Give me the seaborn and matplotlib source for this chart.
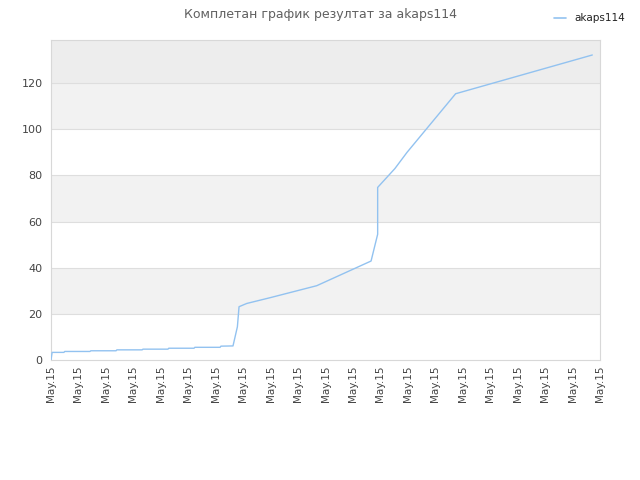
import numpy as np
import pandas as pd
import matplotlib
matplotlib.use("Agg")
import matplotlib.pyplot as plt
import seaborn as sns

# progress in tick units (0..20) and the score at that point
x_pos = [0.0, 0.04, 0.47, 0.50, 1.42, 1.45, 2.37, 2.40, 3.32, 3.35, 4.26, 4.29,
         5.21, 5.24, 6.16, 6.19, 6.63, 6.79, 6.85, 7.13, 7.98, 8.83, 9.68,
         11.66, 11.90, 11.90, 12.53, 12.97, 14.74, 19.72]
score = [0.0, 3.3, 3.3, 3.7, 3.7, 4.0, 4.0, 4.4, 4.4, 4.7, 4.7, 5.1,
         5.1, 5.5, 5.5, 6.0, 6.1, 14.4, 23.1, 24.5, 27.0, 29.6, 32.2,
         42.9, 54.5, 74.8, 83.0, 90.0, 115.4, 132.2]
tick_labels = ["May.15"] * 21
player = "akaps114"
title = "Комплетан график резултат за akaps114"

df = pd.DataFrame({"x": x_pos, "score": score, "player": player})

sns.set_style("white")
plt.rcParams["font.family"] = ["DejaVu Sans"]

fig = plt.figure(figsize=(6.4, 4.8), dpi=100)
ax = fig.add_axes([0.0797, 0.25, 0.8578, 0.6667])

# alternating horizontal bands
band_colors = ["#ffffff", "#f2f2f2"]
for i, lo in enumerate(range(0, 120, 20)):
    ax.axhspan(lo, lo + 20, color=band_colors[i % 2], zorder=0, lw=0)
ax.axhspan(120, 140, color="#ededed", zorder=0, lw=0)
for v in range(20, 140, 20):
    ax.axhline(v, color="#dedede", lw=0.8, zorder=1)

sns.lineplot(data=df, x="x", y="score", sort=False, estimator=None,
             color="#92c2f0", lw=1.0, ax=ax, legend=False, zorder=3)

ax.set_xlim(0, 20)
ax.set_ylim(0, 138.7)
ax.set_xticks(np.arange(21))
ax.set_xticklabels(tick_labels, rotation=90, fontsize=7.5, color="#444444")
ax.set_yticks(range(0, 140, 20))
ax.tick_params(axis="y", labelsize=8, colors="#444444", length=0, pad=6)
ax.tick_params(axis="x", length=0, pad=4)
ax.set_xlabel("")
ax.set_ylabel("")
for s in ax.spines.values():
    s.set_color("#d8d8d8")
    s.set_linewidth(0.8)

fig.text(0.5, 0.969, title, ha="center", va="center", fontsize=9, color="#606060")

# legend entry at top right
fig.lines.append(plt.Line2D([0.866, 0.884], [0.963, 0.963], color="#92c2f0",
                            lw=1.2, transform=fig.transFigure))
fig.text(0.897, 0.963, player, ha="left", va="center", fontsize=7.5, color="#222222")

fig.savefig("out.png", dpi=100)
